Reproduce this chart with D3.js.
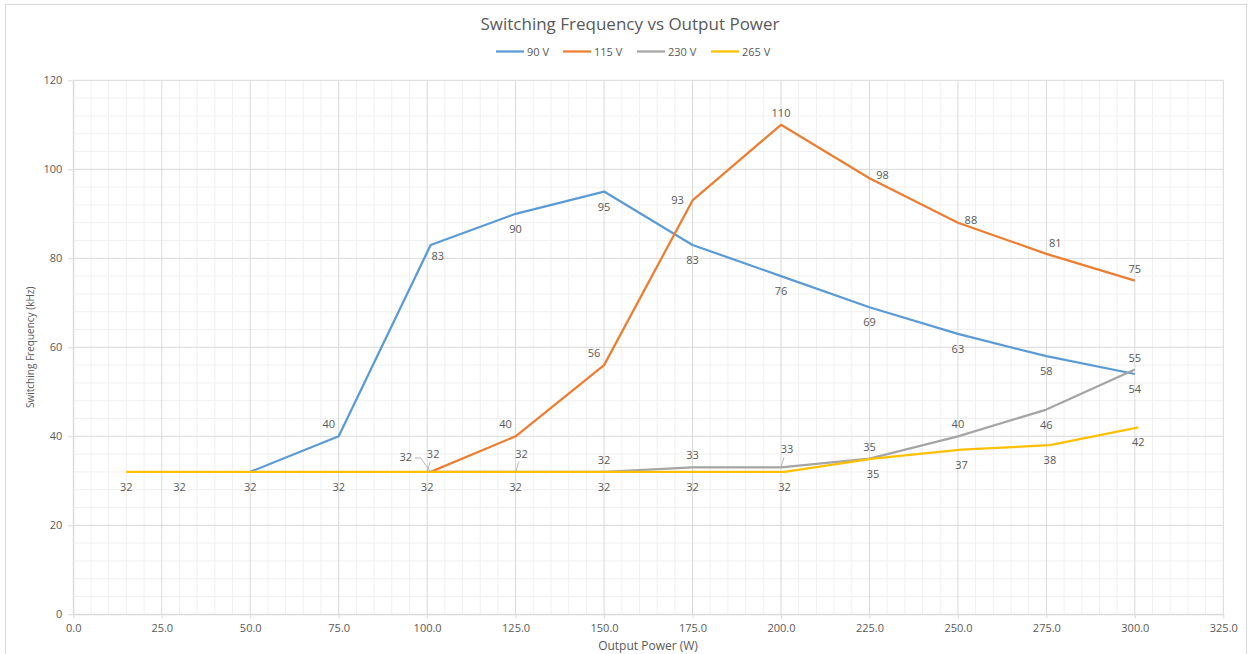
<!DOCTYPE html>
<html><head><meta charset="utf-8">
<script src="https://cdn.jsdelivr.net/npm/d3@7"></script>
<style>
html,body{margin:0;padding:0;background:#fff;}
svg{display:block;font-family:"Open Sans",sans-serif;}
</style></head>
<body>
<svg id="chart" width="1252" height="654"></svg>
<script>
// ---- data ----
const seriesNames = ["90 V", "115 V", "230 V", "265 V"];
const power90  = [50, 75, 101, 125, 150, 175, 200, 225, 250, 275, 300];
const freq90   = [32, 40, 83, 90, 95, 83, 76, 69, 63, 58, 54];
const power115 = [101, 125, 150, 175, 200, 225, 250, 275, 300];
const freq115  = [32, 40, 56, 93, 110, 98, 88, 81, 75];
const power230 = [100, 125, 150, 175, 200, 225, 250, 275, 300];
const freq230  = [32, 32, 32, 33, 33, 35, 40, 46, 55];
const power265 = [15, 30, 50, 75, 100, 125, 150, 175, 201, 226, 251, 276, 301];
const freq265  = [32, 32, 32, 32, 32, 32, 32, 32, 32, 35, 37, 38, 42];
const xTicks = [0, 25, 50, 75, 100, 125, 150, 175, 200, 225, 250, 275, 300, 325];
const yTicks = [0, 20, 40, 60, 80, 100, 120];
const titleText = "Switching Frequency vs Output Power";
const xTitle = "Output Power (W)";
const yTitle = "Switching Frequency (kHz)";

// ---- label placement codes (style) ----
const place90  = ["n","al","br","b","b","b","b","b","b","b","b"];
const place115 = ["lead-l","al","al","l","a","r","r","ar","a"];
const place230 = ["lead-a","lead-a","a","a","lead-a","a","a","b","a"];
const place265 = ["b","b","b","b","b","b","b","b","b","b","b","b","b"];

const colors = ["#5b9bd5", "#ed7d31", "#a5a5a5", "#ffc000"];
const series = [
  {name: seriesNames[0], xs: power90,  ys: freq90,  place: place90},
  {name: seriesNames[1], xs: power115, ys: freq115, place: place115},
  {name: seriesNames[2], xs: power230, ys: freq230, place: place230},
  {name: seriesNames[3], xs: power265, ys: freq265, place: place265},
];

const svg = d3.select("#chart");
const m = {left: 73.3, right: 1223.3, top: 80.3, bottom: 614.3};
const x = d3.scaleLinear().domain([0, 325]).range([m.left, m.right]);
const y = d3.scaleLinear().domain([0, 120]).range([m.bottom, m.top]);
const textCol = "#595959";

// outer frame
svg.append("rect").attr("x", 5.5).attr("y", 4.5).attr("width", 1241).attr("height", 660)
  .attr("fill", "#fff").attr("stroke", "#d9d9d9").attr("stroke-width", 1);

// minor grid
const g = svg.append("g");
d3.range(0, 325.01, 5).forEach(v => {
  if (v % 25 !== 0) g.append("line").attr("x1", x(v)).attr("x2", x(v)).attr("y1", y(0)).attr("y2", y(120))
    .attr("stroke", "#f0f0f0").attr("stroke-width", 1);
});
d3.range(0, 120.01, 4).forEach(v => {
  if (v % 20 !== 0) g.append("line").attr("x1", x(0)).attr("x2", x(325)).attr("y1", y(v)).attr("y2", y(v))
    .attr("stroke", "#f0f0f0").attr("stroke-width", 1);
});
// major grid
xTicks.forEach(v => g.append("line").attr("x1", x(v)).attr("x2", x(v)).attr("y1", y(0)).attr("y2", y(120))
  .attr("stroke", "#d9d9d9").attr("stroke-width", 1));
yTicks.forEach(v => g.append("line").attr("x1", x(0)).attr("x2", x(325)).attr("y1", y(v)).attr("y2", y(v))
  .attr("stroke", "#d9d9d9").attr("stroke-width", 1));

// axes
const xAxis = svg.append("g").attr("transform", `translate(0,${y(0)})`)
  .call(d3.axisBottom(x).tickValues(xTicks).tickFormat(d3.format(".1f")).tickSizeInner(4).tickSizeOuter(0).tickPadding(6));
const yAxis = svg.append("g").attr("transform", `translate(${x(0)},0)`)
  .call(d3.axisLeft(y).tickValues(yTicks).tickSizeInner(5).tickSizeOuter(0).tickPadding(6));
[xAxis, yAxis].forEach(a => {
  a.select(".domain").attr("stroke", "#d9d9d9");
  a.selectAll(".tick line").attr("stroke", "#d9d9d9");
  a.selectAll(".tick text").attr("fill", textCol).attr("font-size", 11).attr("font-family", "Open Sans");
});

// lines
const line = d3.line().x(d => x(d[0])).y(d => y(d[1]));
series.forEach((s, i) => {
  const pts = s.xs.map((v, k) => [v, s.ys[k]]);
  svg.append("path").attr("d", line(pts)).attr("fill", "none").attr("stroke", colors[i])
    .attr("stroke-width", 2.25).attr("stroke-linejoin", "round");
});

// data labels
const off = {
  b: [0, 19], br: [7, 15], a: [0, -8], l: [-15, 4], r: [13, 1], al: [-10, -8], ar: [9, -7],
  "lead-l": [-25, -11], "lead-a": [6, -14]
};
const lab = svg.append("g").attr("font-size", 11).attr("fill", textCol).attr("text-anchor", "middle");
series.forEach((s, i) => {
  s.xs.forEach((v, k) => {
    const p = s.place[k];
    if (p === "n") return;
    const px = x(v), py = y(s.ys[k]);
    const [dx, dy] = off[p];
    lab.append("text").attr("x", px + dx).attr("y", py + dy).text(s.ys[k]);
    if (p === "lead-l") {
      svg.append("polyline").attr("points", `${px-16},${py-14} ${px-10},${py-14} ${px},${py}`)
        .attr("fill", "none").attr("stroke", "#a6a6a6").attr("stroke-width", 0.8);
    }
    if (p === "lead-a") {
      svg.append("line").attr("x1", px + 3).attr("y1", py - 10).attr("x2", px).attr("y2", py)
        .attr("stroke", "#a6a6a6").attr("stroke-width", 0.8);
    }
  });
});

// title
svg.append("text").attr("x", 630).attr("y", 30).attr("text-anchor", "middle")
  .attr("font-size", 17).attr("fill", textCol).text(titleText);

// legend
const legX = [496, 563, 637, 711];
series.forEach((s, i) => {
  const lg = svg.append("g").attr("transform", `translate(${legX[i]},51.5)`);
  lg.append("line").attr("x1", 0).attr("x2", 28).attr("stroke", colors[i]).attr("stroke-width", 2.25);
  lg.append("text").attr("x", 31).attr("y", 4).attr("font-size", 11).attr("fill", textCol).text(s.name);
});

// axis titles
svg.append("text").attr("x", 648).attr("y", 650).attr("text-anchor", "middle")
  .attr("font-size", 12).attr("fill", textCol).text(xTitle);
svg.append("text").attr("transform", `translate(34,${(m.top + m.bottom) / 2}) rotate(-90)`)
  .attr("text-anchor", "middle").attr("font-size", 10).attr("fill", textCol).text(yTitle);
</script>
</body></html>
